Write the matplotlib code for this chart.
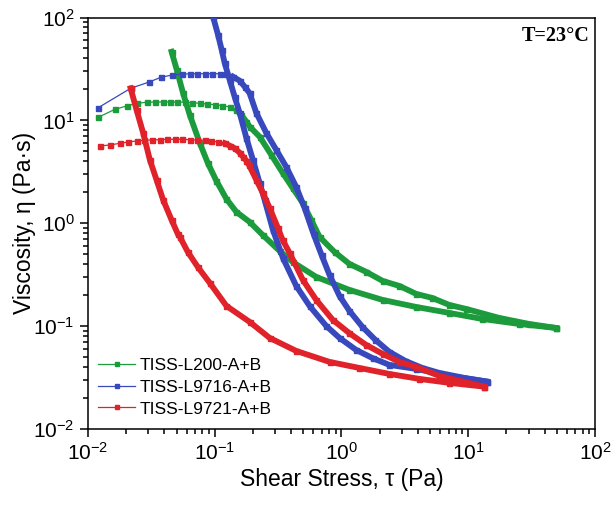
import matplotlib

matplotlib.use("Agg")
import matplotlib.pyplot as plt
import numpy as np

plt.rcParams["font.family"] = ["Liberation Sans", "DejaVu Sans"]
plt.rcParams["mathtext.default"] = "regular"

# TISS-L200-A+B : up sweep / down sweep (shear stress Pa, viscosity Pa.s)
l200_up_x = [0.01205, 0.01632, 0.02017, 0.02417, 0.02897, 0.03372, 0.03876, 0.04424,
             0.05045, 0.05807, 0.06672, 0.07617, 0.08697, 0.1, 0.115, 0.1312, 0.1482,
             0.1622, 0.1777, 0.1886, 0.2261, 0.2796, 0.345, 0.4135, 0.4958, 0.5774,
             0.6713, 0.8808, 1.156, 1.573, 2.115, 2.862, 3.897, 5.206, 7.087, 9.645,
             17.54, 30.22, 49.31]
l200_up_y = [10.72, 12.82, 13.80, 14.66, 15.0, 15.1, 15.1, 15.1, 15.1, 15.0, 14.86,
             14.66, 14.43, 14.21, 13.90, 13.50, 12.62, 11.28, 9.71, 8.69, 6.94, 4.61,
             3.06, 2.188, 1.564, 1.077, 0.736, 0.526, 0.402, 0.336, 0.275, 0.2459,
             0.2055, 0.1879, 0.1607, 0.1469, 0.1202, 0.1050, 0.0960]
l200_dn_x = [0.04563, 0.05021, 0.05627, 0.06353, 0.07617, 0.08809, 0.1031, 0.1237,
             0.1482, 0.1886, 0.2388, 0.3249, 0.4113, 0.6321, 1.156, 2.115, 3.875,
             7.087, 12.89, 25.21, 49.31]
l200_dn_y = [46.5, 30.9, 18.34, 11.28, 6.03, 3.855, 2.577, 1.722, 1.288, 1.029, 0.770,
             0.538, 0.4206, 0.3007, 0.2248, 0.1797, 0.1537, 0.1344, 0.1175, 0.1050,
             0.0960]

# TISS-L9716-A+B
l9716_up_x = [0.01205, 0.02169, 0.0304, 0.03758, 0.04613, 0.05466, 0.06353, 0.0726,
              0.08339, 0.09592, 0.1095, 0.1237, 0.1393, 0.1573, 0.1722, 0.1886, 0.2129,
              0.2553, 0.306, 0.3669, 0.4396, 0.5113, 0.6018, 0.696, 0.8043, 0.9645,
              1.156, 1.463, 1.852, 2.388, 3.191, 4.343, 5.911, 9.30, 14.12]
l9716_up_y = [13.29, 20.51, 23.61, 26.24, 27.62, 28.05, 28.43, 28.43, 28.43, 28.43,
              28.43, 28.24, 26.6, 24.31, 21.26, 18.34, 11.80, 7.54, 5.16, 3.525, 2.253,
              1.409, 0.787, 0.492, 0.3145, 0.1965, 0.1405, 0.0982, 0.0734, 0.0562,
              0.0459, 0.0392, 0.0351, 0.0314, 0.0289]
l9716_dn_x = [0.09696, 0.1062, 0.1135, 0.1199, 0.1312, 0.1437, 0.1573, 0.1777, 0.2002,
              0.2261, 0.2476, 0.2878, 0.345, 0.4396, 0.5598, 0.7578, 0.9645, 1.305,
              1.764, 2.388, 3.875, 7.087, 14.12]
l9716_dn_y = [101.8, 67.6, 48.3, 35.9, 24.69, 16.88, 11.80, 6.75, 4.12, 2.464, 1.684,
              0.861, 0.460, 0.2459, 0.1571, 0.1004, 0.0768, 0.0587, 0.0488, 0.0420,
              0.0384, 0.0328, 0.0289]

# TISS-L9721-A+B
l9721_up_x = [0.01243, 0.0149, 0.01786, 0.02076, 0.02417, 0.0276, 0.03176, 0.0369,
              0.04209, 0.0484, 0.05566, 0.0635, 0.0726, 0.0834, 0.0942, 0.1062, 0.1199,
              0.1312, 0.1437, 0.1573, 0.167, 0.1777, 0.1862, 0.2129, 0.2401, 0.2711,
              0.315, 0.3431, 0.3896, 0.4958, 0.6321, 0.8541, 1.156, 1.564, 2.115,
              2.862, 3.875, 5.911, 9.30, 13.37]
l9721_up_y = [5.64, 5.77, 5.99, 6.17, 6.31, 6.41, 6.45, 6.49, 6.55, 6.55, 6.55, 6.49,
              6.45, 6.41, 6.31, 6.17, 5.99, 5.68, 5.36, 4.85, 4.44, 4.06, 3.687, 2.635,
              1.957, 1.409, 0.900, 0.688, 0.514, 0.2812, 0.1797, 0.1149, 0.0853,
              0.0657, 0.0537, 0.0449, 0.0401, 0.0328, 0.0287, 0.0258]
l9721_dn_x = [0.02169, 0.02417, 0.02724, 0.03078, 0.03475, 0.03918, 0.04563, 0.0511,
              0.05300, 0.06128, 0.07345, 0.09134, 0.1237, 0.1886, 0.2711, 0.4396,
              0.8043, 1.386, 2.388, 4.114, 7.087, 13.37]
l9721_dn_y = [20.51, 12.62, 7.54, 4.12, 2.635, 1.684, 1.077, 0.787, 0.740, 0.526,
              0.376, 0.2630, 0.1571, 0.1099, 0.0768, 0.0574, 0.0449, 0.0392, 0.0343,
              0.0307, 0.0281, 0.0258]

series = [
    ("TISS-L200-A+B", "#1c9b3c", (l200_up_x, l200_up_y), (l200_dn_x, l200_dn_y), 0.14),
    ("TISS-L9716-A+B", "#3848bd", (l9716_up_x, l9716_up_y), (l9716_dn_x, l9716_dn_y), 0.13),
    ("TISS-L9721-A+B", "#e0222a", (l9721_up_x, l9721_up_y), (l9721_dn_x, l9721_dn_y), 0.115),
]

fig = plt.figure(figsize=(6.12, 5.08), dpi=100)
ax = fig.add_axes([0.1438, 0.1555, 0.8284, 0.81])

for i, (label, color, up, dn, dense_from) in enumerate(series):
    z = 2 + i
    ux, uy = np.array(up[0]), np.array(up[1])
    ax.plot(ux, uy, "-s", color=color, lw=0.9, ms=3.6, mec=color, label=label, zorder=z)
    m = ux >= dense_from
    ax.plot(ux[m], uy[m], "-", color=color, lw=4.2, zorder=z)
    ax.plot(dn[0], dn[1], "-s", color=color, lw=4.2, ms=3.6, mec=color, zorder=z)

ax.set_xscale("log")
ax.set_yscale("log")
ax.set_xlim(1e-2, 1e2)
ax.set_ylim(1e-2, 1e2)

ax.set_xlabel("Shear Stress, \u03c4 (Pa)", fontsize=16.5, labelpad=3)
ax.set_ylabel("Viscosity, \u03b7 (Pa\u00b7s)", fontsize=16.5, labelpad=-2)
ax.tick_params(which="both", direction="out", top=False, right=False, labelsize=15,
               width=1.1)
ax.tick_params(which="major", length=6)
ax.tick_params(which="minor", length=3.5)
for s in ax.spines.values():
    s.set_linewidth(1.1)

ax.text(0.99, 0.942, "T=23\u00b0C", transform=ax.transAxes, ha="right", va="baseline",
        fontsize=14.5, fontweight="bold", family=["Liberation Serif", "DejaVu Serif"])

leg = ax.legend(loc="lower left", bbox_to_anchor=(0.0, 0.005), frameon=False,
                fontsize=12.5, handlelength=2.1, handletextpad=0.25, labelspacing=0.38,
                borderaxespad=0.2, markerscale=0.9)

fig.savefig("out.png", dpi=100)
